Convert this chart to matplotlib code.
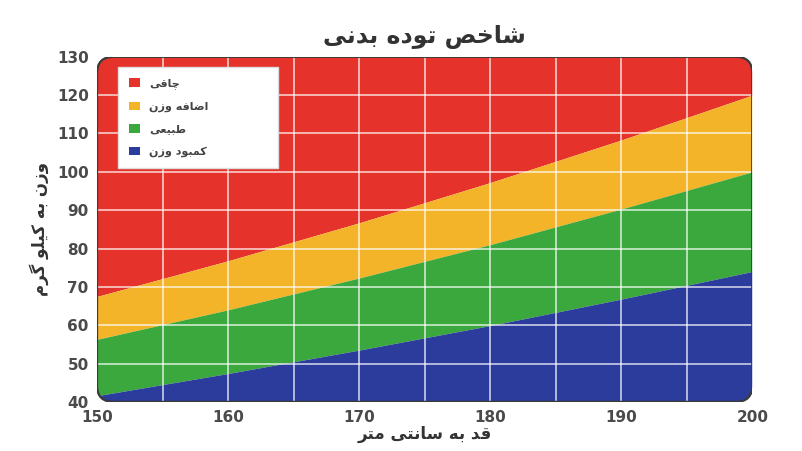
import numpy as np
import matplotlib
matplotlib.use('Agg')
import matplotlib.pyplot as plt
from matplotlib.patches import FancyBboxPatch, Patch

# simple Persian shaping: (isolated, final, initial, medial)
FORMS = {
    'ا': ('\uFE8D', '\uFE8E', None, None),
    'ب': ('\uFE8F', '\uFE90', '\uFE91', '\uFE92'),
    'ت': ('\uFE95', '\uFE96', '\uFE97', '\uFE98'),
    'خ': ('\uFEA5', '\uFEA6', '\uFEA7', '\uFEA8'),
    'د': ('\uFEA9', '\uFEAA', None, None),
    'ر': ('\uFEAD', '\uFEAE', None, None),
    'ز': ('\uFEAF', '\uFEB0', None, None),
    'س': ('\uFEB1', '\uFEB2', '\uFEB3', '\uFEB4'),
    'ش': ('\uFEB5', '\uFEB6', '\uFEB7', '\uFEB8'),
    'ص': ('\uFEB9', '\uFEBA', '\uFEBB', '\uFEBC'),
    'ض': ('\uFEBD', '\uFEBE', '\uFEBF', '\uFEC0'),
    'ط': ('\uFEC1', '\uFEC2', '\uFEC3', '\uFEC4'),
    'ع': ('\uFEC9', '\uFECA', '\uFECB', '\uFECC'),
    'ف': ('\uFED1', '\uFED2', '\uFED3', '\uFED4'),
    'ق': ('\uFED5', '\uFED6', '\uFED7', '\uFED8'),
    'ل': ('\uFEDD', '\uFEDE', '\uFEDF', '\uFEE0'),
    'م': ('\uFEE1', '\uFEE2', '\uFEE3', '\uFEE4'),
    'ن': ('\uFEE5', '\uFEE6', '\uFEE7', '\uFEE8'),
    'ه': ('\uFEE9', '\uFEEA', '\uFEEB', '\uFEEC'),
    'و': ('\uFEED', '\uFEEE', None, None),
    'ی': ('\uFBFC', '\uFBFD', '\uFBFE', '\uFBFF'),
    'ک': ('\uFB8E', '\uFB8F', '\uFB90', '\uFB91'),
    'گ': ('\uFB92', '\uFB93', '\uFB94', '\uFB95'),
    'چ': ('\uFB7A', '\uFB7B', '\uFB7C', '\uFB7D'),
}

def fa(text):
    out = []
    for i, c in enumerate(text):
        if c not in FORMS:
            out.append(c)
            continue
        prev = text[i - 1] if i > 0 else ''
        nxt = text[i + 1] if i < len(text) - 1 else ''
        jp = prev in FORMS and FORMS[prev][2] is not None
        jn = nxt in FORMS and FORMS[c][2] is not None
        iso, fin, ini, med = FORMS[c]
        if jp and jn:
            out.append(med)
        elif jp:
            out.append(fin)
        elif jn:
            out.append(ini)
        else:
            out.append(iso)
    return ''.join(out)[::-1]

heights = [150, 160, 170, 180, 190, 200]
under_top = [41.6, 47.4, 53.5, 59.9, 66.8, 74.0]
normal_top = [56.3, 64.0, 72.3, 81.0, 90.3, 100.0]
over_top = [67.5, 76.8, 86.7, 97.2, 108.3, 120.0]
y_min, y_max = 40, 130

labels = ['چاقی', 'اضافه وزن', 'طبیعی', 'کمبود وزن']
colors = ['#e5322b', '#f4b42a', '#3aa83c', '#2b3c9c']

plt.rcParams['font.family'] = ['DejaVu Sans']

fig = plt.figure(figsize=(8.02, 4.51), dpi=100)
ax = fig.add_axes([0.121, 0.109, 0.817, 0.765])

box = FancyBboxPatch((0, 0), 1, 1, boxstyle='round,pad=0,rounding_size=0.025',
                     mutation_aspect=1.9, transform=ax.transAxes,
                     facecolor='none', edgecolor='#3a3a3a', lw=1.6, zorder=5)
ax.add_patch(box)

h = np.array(heights)
fills = [
    ax.fill_between(h, over_top, y_max, color=colors[0], lw=0),
    ax.fill_between(h, normal_top, over_top, color=colors[1], lw=0),
    ax.fill_between(h, under_top, normal_top, color=colors[2], lw=0),
    ax.fill_between(h, y_min, under_top, color=colors[3], lw=0),
]
for f in fills:
    f.set_clip_path(box)

for x in range(155, 200, 5):
    l = ax.axvline(x, color='white', lw=1.2, alpha=0.75, zorder=3)
    l.set_clip_path(box)
for y in range(50, 130, 10):
    l = ax.axhline(y, color='white', lw=1.2, alpha=0.75, zorder=3)
    l.set_clip_path(box)

ax.set_xlim(150, 200)
ax.set_ylim(y_min, y_max)
ax.set_xticks(range(150, 201, 10))
ax.set_yticks(range(40, 131, 10))
for s in ax.spines.values():
    s.set_visible(False)
ax.tick_params(length=0, labelsize=11, colors='#4a4a4a', pad=6)
for t in ax.get_xticklabels() + ax.get_yticklabels():
    t.set_fontweight('bold')

ax.set_title(fa('شاخص توده بدنی'), fontsize=17, color='#333333', pad=10, fontweight='bold')
ax.set_xlabel(fa('قد به سانتی متر'), fontsize=12, color='#333333', labelpad=0, fontweight='bold')
ax.set_ylabel(fa('وزن به کیلو گرم'), fontsize=12, color='#333333', labelpad=6, fontweight='bold')

handles = [Patch(facecolor=c, edgecolor='none') for c in colors]
leg = ax.legend(handles, [fa(t) for t in labels], loc='upper left',
                bbox_to_anchor=(0.023, 0.986, 0.261, 0), mode='expand',
                fontsize=8, labelspacing=1.1, borderpad=1.0,
                handlelength=1.0, handleheight=0.8, handletextpad=0.8,
                fancybox=False, framealpha=1, edgecolor='#dddddd',
                prop={'weight': 'bold', 'size': 8})
for t in leg.get_texts():
    t.set_color('#444444')
leg.set_zorder(6)

fig.savefig('out.png', dpi=100, facecolor='white')
